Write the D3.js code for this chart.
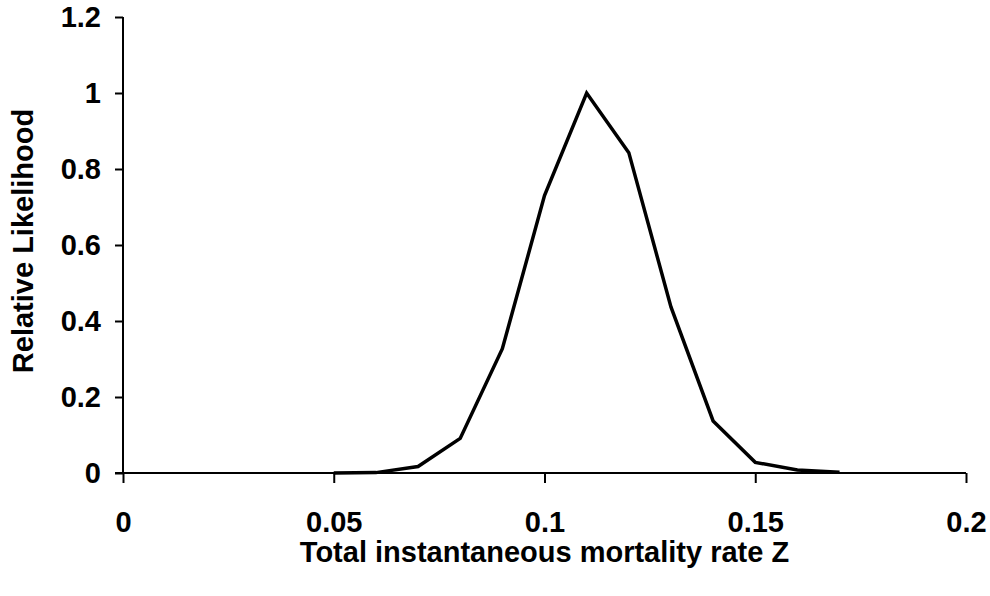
<!DOCTYPE html>
<html>
<head>
<meta charset="utf-8">
<script src="https://cdn.jsdelivr.net/npm/d3@7"></script>
<style>
  body { margin: 0; background: #fff; }
  svg text { font-family: "Liberation Sans", Arial, sans-serif; font-weight: bold; fill: #000; }
</style>
</head>
<body>
<div id="chart"></div>
<script>
// mortality rate Z and relative likelihood
var zValues = [0.05, 0.06, 0.07, 0.08, 0.09, 0.10, 0.11, 0.12, 0.13, 0.14, 0.15, 0.16, 0.17];
var likelihood = [0.0, 0.001, 0.017, 0.091, 0.327, 0.73, 1.0, 0.843, 0.437, 0.137, 0.028, 0.008, 0.002];
var xTicks = [0, 0.05, 0.1, 0.15, 0.2];
var yTicks = [0, 0.2, 0.4, 0.6, 0.8, 1, 1.2];

var w = 990, h = 596;
var plotLeft = 123, plotRight = 966, plotTop = 17, plotBottom = 473;

var svg = d3.select("#chart").append("svg")
  .attr("width", w)
  .attr("height", h);

var x = d3.scaleLinear().domain([0, 0.2]).range([plotLeft, plotRight]);
var y = d3.scaleLinear().domain([0, 1.2]).range([plotBottom, plotTop]);

// x axis
var xAxis = svg.append("g")
  .attr("transform", "translate(0," + plotBottom + ")")
  .call(d3.axisBottom(x).tickValues(xTicks).tickSize(10).tickPadding(28)
    .tickFormat(function(d) { return String(d); }));
xAxis.select(".domain").attr("d", "M" + (plotLeft - 8) + ",0H" + plotRight);

// y axis
var yAxis = svg.append("g")
  .attr("transform", "translate(" + plotLeft + ",0)")
  .call(d3.axisLeft(y).tickValues(yTicks).tickSize(8).tickPadding(14)
    .tickFormat(function(d) { return String(d); }));
yAxis.select(".domain").attr("d", "M0," + plotTop + "V" + plotBottom);

svg.selectAll(".tick text").attr("font-size", 29);
svg.selectAll(".domain, .tick line").attr("stroke", "#000").attr("stroke-width", 2);

// curve
var line = d3.line()
  .x(function(d, i) { return x(zValues[i]); })
  .y(function(d) { return y(d); });

svg.append("path")
  .datum(likelihood)
  .attr("d", line)
  .attr("fill", "none")
  .attr("stroke", "#000")
  .attr("stroke-width", 3.5)
  .attr("stroke-linejoin", "miter");

// titles
svg.append("text")
  .attr("x", (plotLeft + plotRight) / 2)
  .attr("y", 562)
  .attr("text-anchor", "middle")
  .attr("font-size", 29)
  .text("Total instantaneous mortality rate Z");

svg.append("text")
  .attr("transform", "translate(33,241) rotate(-90)")
  .attr("text-anchor", "middle")
  .attr("font-size", 29)
  .text("Relative Likelihood");
</script>
</body>
</html>
